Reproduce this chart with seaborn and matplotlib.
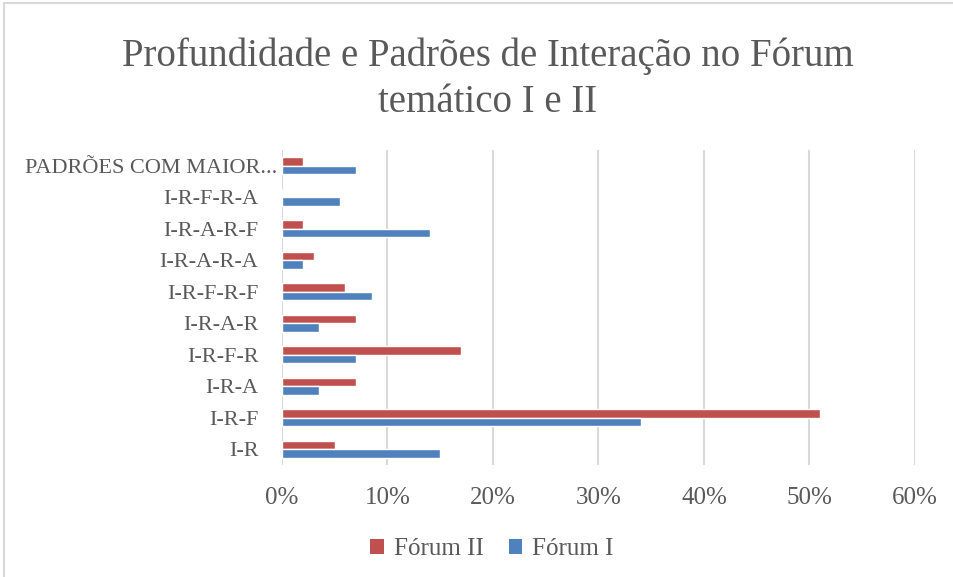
import matplotlib
matplotlib.use("Agg")
import matplotlib.pyplot as plt
import matplotlib.transforms as mtransforms
import seaborn as sns
import pandas as pd
from matplotlib.lines import Line2D
from matplotlib.patches import Patch

categories = ["PADRÕES COM MAIOR...", "I-R-F-R-A", "I-R-A-R-F", "I-R-A-R-A", "I-R-F-R-F",
              "I-R-A-R", "I-R-F-R", "I-R-A", "I-R-F", "I-R"]
forum_ii = [2, 0, 2, 3, 6, 7, 17, 7, 51, 5]
forum_i = [7, 5.5, 14, 2, 8.5, 3.5, 7, 3.5, 34, 15]
series = ["Fórum II", "Fórum I"]
xticks = [0, 10, 20, 30, 40, 50, 60]
title = "Profundidade e Padrões de Interação no Fórum\ntemático I e II"

df = pd.DataFrame({
    "cat": categories * 2,
    "val": forum_ii + forum_i,
    "serie": [series[0]] * len(categories) + [series[1]] * len(categories),
})

sns.set_theme(style="white")
plt.rcParams["font.family"] = ["Liberation Serif", "DejaVu Serif"]
txt = "#595959"
colors = {"Fórum II": "#C0504D", "Fórum I": "#4F81BD"}

fig = plt.figure(figsize=(9.54, 5.77), dpi=100)
ax = fig.add_axes([282/954, 1-465/577, (915-282)/954, (465-150)/577])
sns.barplot(data=df, y="cat", x="val", hue="serie", order=categories,
            hue_order=series, palette=colors, orient="h", width=0.54,
            saturation=1, ax=ax, legend=False)

ax.set_xlim(0, 60)
ax.set_ylim(9.5, -0.5)
ax.set_xticks(xticks)
ax.set_xticklabels([f"{v}%" for v in xticks])
ax.set_xlabel("")
ax.set_ylabel("")
for s in ax.spines.values():
    s.set_visible(False)
ax.grid(axis="x", color="#D9D9D9", linewidth=1.5)
ax.set_axisbelow(True)
ax.tick_params(axis="x", length=0, pad=16, labelsize=18, labelcolor=txt)
ax.tick_params(axis="y", length=0, pad=17, labelsize=16, labelcolor=txt)

# the truncated first label sits a bit further right, as in the reference
first = ax.get_yticklabels()[0]
first.set_transform(first.get_transform() + mtransforms.ScaledTranslation(19/100, 0, fig.dpi_scale_trans))

fig.text(488/954, 1-79/577, title, ha="center", va="center", fontsize=28,
         color=txt, linespacing=1.32)

handles = [Patch(facecolor=colors[s], edgecolor="none") for s in series]
fig.legend(handles, series, loc="center", bbox_to_anchor=(492/954, 1-549/577),
           ncol=2, frameon=False, fontsize=18, labelcolor=txt,
           handlelength=0.55, handleheight=0.55, handletextpad=0.4, columnspacing=1.0)

fig.add_artist(Line2D([4/954, 1], [1-3/577, 1-3/577], color="#D9D9D9", linewidth=1.5,
                      transform=fig.transFigure))
fig.add_artist(Line2D([4/954, 4/954], [0, 1-3/577], color="#D9D9D9", linewidth=1.5,
                      transform=fig.transFigure))

fig.savefig("out.png", dpi=100)
